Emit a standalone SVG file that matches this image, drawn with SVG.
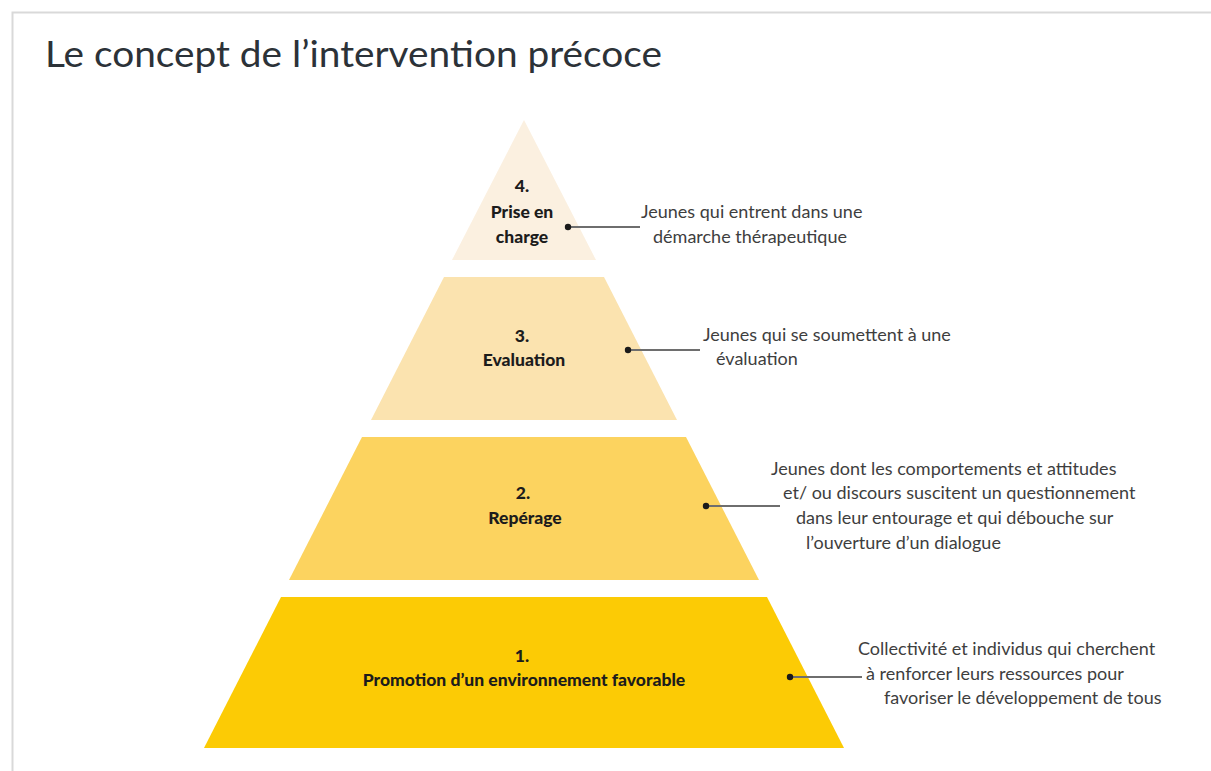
<svg xmlns="http://www.w3.org/2000/svg" width="1211" height="771" viewBox="0 0 1211 771">
<style>
.title{font-family:Lato,"Liberation Sans",sans-serif;font-size:37px;fill:#2c3238}
.lbl{font-family:Lato,"Liberation Sans",sans-serif;font-size:17.5px;font-weight:900;fill:#1c1c1c;text-anchor:middle}
.desc{font-family:Lato,"Liberation Sans",sans-serif;font-size:18px;fill:#3e3e3e}
.conn line{stroke:#6e6e6e;stroke-width:2}
.conn circle{fill:#1a1a1a}
</style>
<rect width="1211" height="771" fill="#ffffff"/>
<path d="M12.5 771 V12.5 H1211" fill="none" stroke="#d9d9d9" stroke-width="2"/>
<text class="title" x="45" y="67" textLength="617" lengthAdjust="spacingAndGlyphs">Le concept de l’intervention précoce</text>

<g id="tier4">
<polygon points="524,120 596,260 452,260" fill="#fbf0e0"/>
<text class="lbl" x="522" y="192">4.</text>
<text class="lbl" x="522" y="218">Prise en</text>
<text class="lbl" x="522" y="243">charge</text>
</g>
<g id="tier3">
<polygon points="444,277 604,277 677,420 371,420" fill="#fbe3af"/>
<text class="lbl" x="522" y="342">3.</text>
<text class="lbl" x="524" y="366">Evaluation</text>
</g>
<g id="tier2">
<polygon points="362,437 686,437 759,580 289,580" fill="#fcd35f"/>
<text class="lbl" x="523" y="499">2.</text>
<text class="lbl" x="525" y="524">Repérage</text>
</g>
<g id="tier1">
<polygon points="281,597 767,597 844,748 204,748" fill="#fccb05"/>
<text class="lbl" x="522" y="662">1.</text>
<text class="lbl" x="524" y="686">Promotion d’un environnement favorable</text>
</g>

<g id="desc4">
<text class="desc" x="641" y="218">Jeunes qui entrent dans une</text>
<text class="desc" x="653" y="243">démarche thérapeutique</text>
</g>
<g id="desc3">
<text class="desc" x="703" y="341">Jeunes qui se soumettent à une</text>
<text class="desc" x="716" y="365">évaluation</text>
</g>
<g id="desc2">
<text class="desc" x="771" y="475">Jeunes dont les comportements et attitudes</text>
<text class="desc" x="783" y="499">et/ ou discours suscitent un questionnement</text>
<text class="desc" x="796" y="524">dans leur entourage et qui débouche sur</text>
<text class="desc" x="806" y="549">l’ouverture d’un dialogue</text>
</g>
<g id="desc1">
<text class="desc" x="858" y="655">Collectivité et individus qui cherchent</text>
<text class="desc" x="866" y="680">à renforcer leurs ressources pour</text>
<text class="desc" x="884" y="704">favoriser le développement de tous</text>
</g>

<g id="connectors" class="conn">
<line x1="568" y1="227" x2="640" y2="227"/>
<circle cx="568" cy="227" r="3.2"/>
<line x1="628" y1="350" x2="700" y2="350"/>
<circle cx="628" cy="350" r="3.2"/>
<line x1="706" y1="506" x2="780" y2="506"/>
<circle cx="706" cy="506" r="3.2"/>
<line x1="790" y1="677" x2="862" y2="677"/>
<circle cx="790" cy="677" r="3.2"/>
</g>
</svg>
